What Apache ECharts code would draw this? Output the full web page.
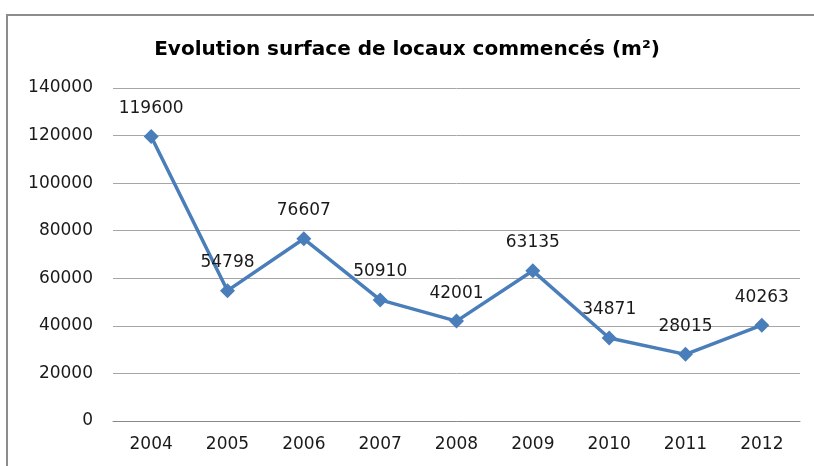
<!DOCTYPE html>
<html>
<head>
<meta charset="utf-8">
<script src="https://cdn.jsdelivr.net/npm/echarts@6/dist/echarts.min.js"></script>
<style>
  html, body { margin: 0; padding: 0; background: #fff; }
  #main { width: 814px; height: 466px; }
</style>
</head>
<body>
<div id="main"></div>
<script>
// données
const years = ['2004', '2005', '2006', '2007', '2008', '2009', '2010', '2011', '2012'];
const surfaces = [119600, 54798, 76607, 50910, 42001, 63135, 34871, 28015, 40263];
const chartTitle = 'Evolution surface de locaux commencés (m²)';

const font = '"DejaVu Sans", sans-serif';

const myChart = echarts.init(document.getElementById('main'));
const option = {
  animation: false,
  backgroundColor: '#fff',
  graphic: [
    {
      type: 'rect',
      shape: { x: 7, y: 15, width: 900, height: 600 },
      style: { fill: 'none', stroke: '#8c8c8c', lineWidth: 2 },
      z: 0
    }
  ],
  title: {
    text: chartTitle,
    left: 'center',
    top: 35,
    textStyle: { fontFamily: font, fontSize: 20, fontWeight: 'bold', color: '#000' }
  },
  grid: { left: 113, right: 14, top: 88, bottom: 45 },
  xAxis: {
    type: 'category',
    data: years,
    axisLine: { show: true, lineStyle: { color: '#888', width: 1 } },
    axisTick: { show: false },
    axisLabel: { color: '#1a1a1a', fontFamily: font, fontSize: 17, margin: 15 }
  },
  yAxis: {
    type: 'value',
    min: 0,
    max: 140000,
    interval: 20000,
    axisLine: { show: false },
    axisTick: { show: false },
    axisLabel: {
      color: '#1a1a1a',
      fontFamily: font,
      fontSize: 17,
      margin: 20,
      formatter: (v) => String(v)
    },
    splitLine: { lineStyle: { color: '#a6a6a6', width: 1 } }
  },
  series: [
    {
      type: 'line',
      data: surfaces,
      symbol: 'diamond',
      symbolSize: 15,
      lineStyle: { color: '#4a7ebb', width: 3.5 },
      itemStyle: { color: '#4a7ebb' },
      label: {
        show: true,
        position: 'top',
        distance: 12,
        color: '#1a1a1a',
        fontFamily: font,
        fontSize: 17
      }
    }
  ]
};
myChart.setOption(option);
window.addEventListener('resize', () => {
  myChart.resize();
});
</script>
</body>
</html>
